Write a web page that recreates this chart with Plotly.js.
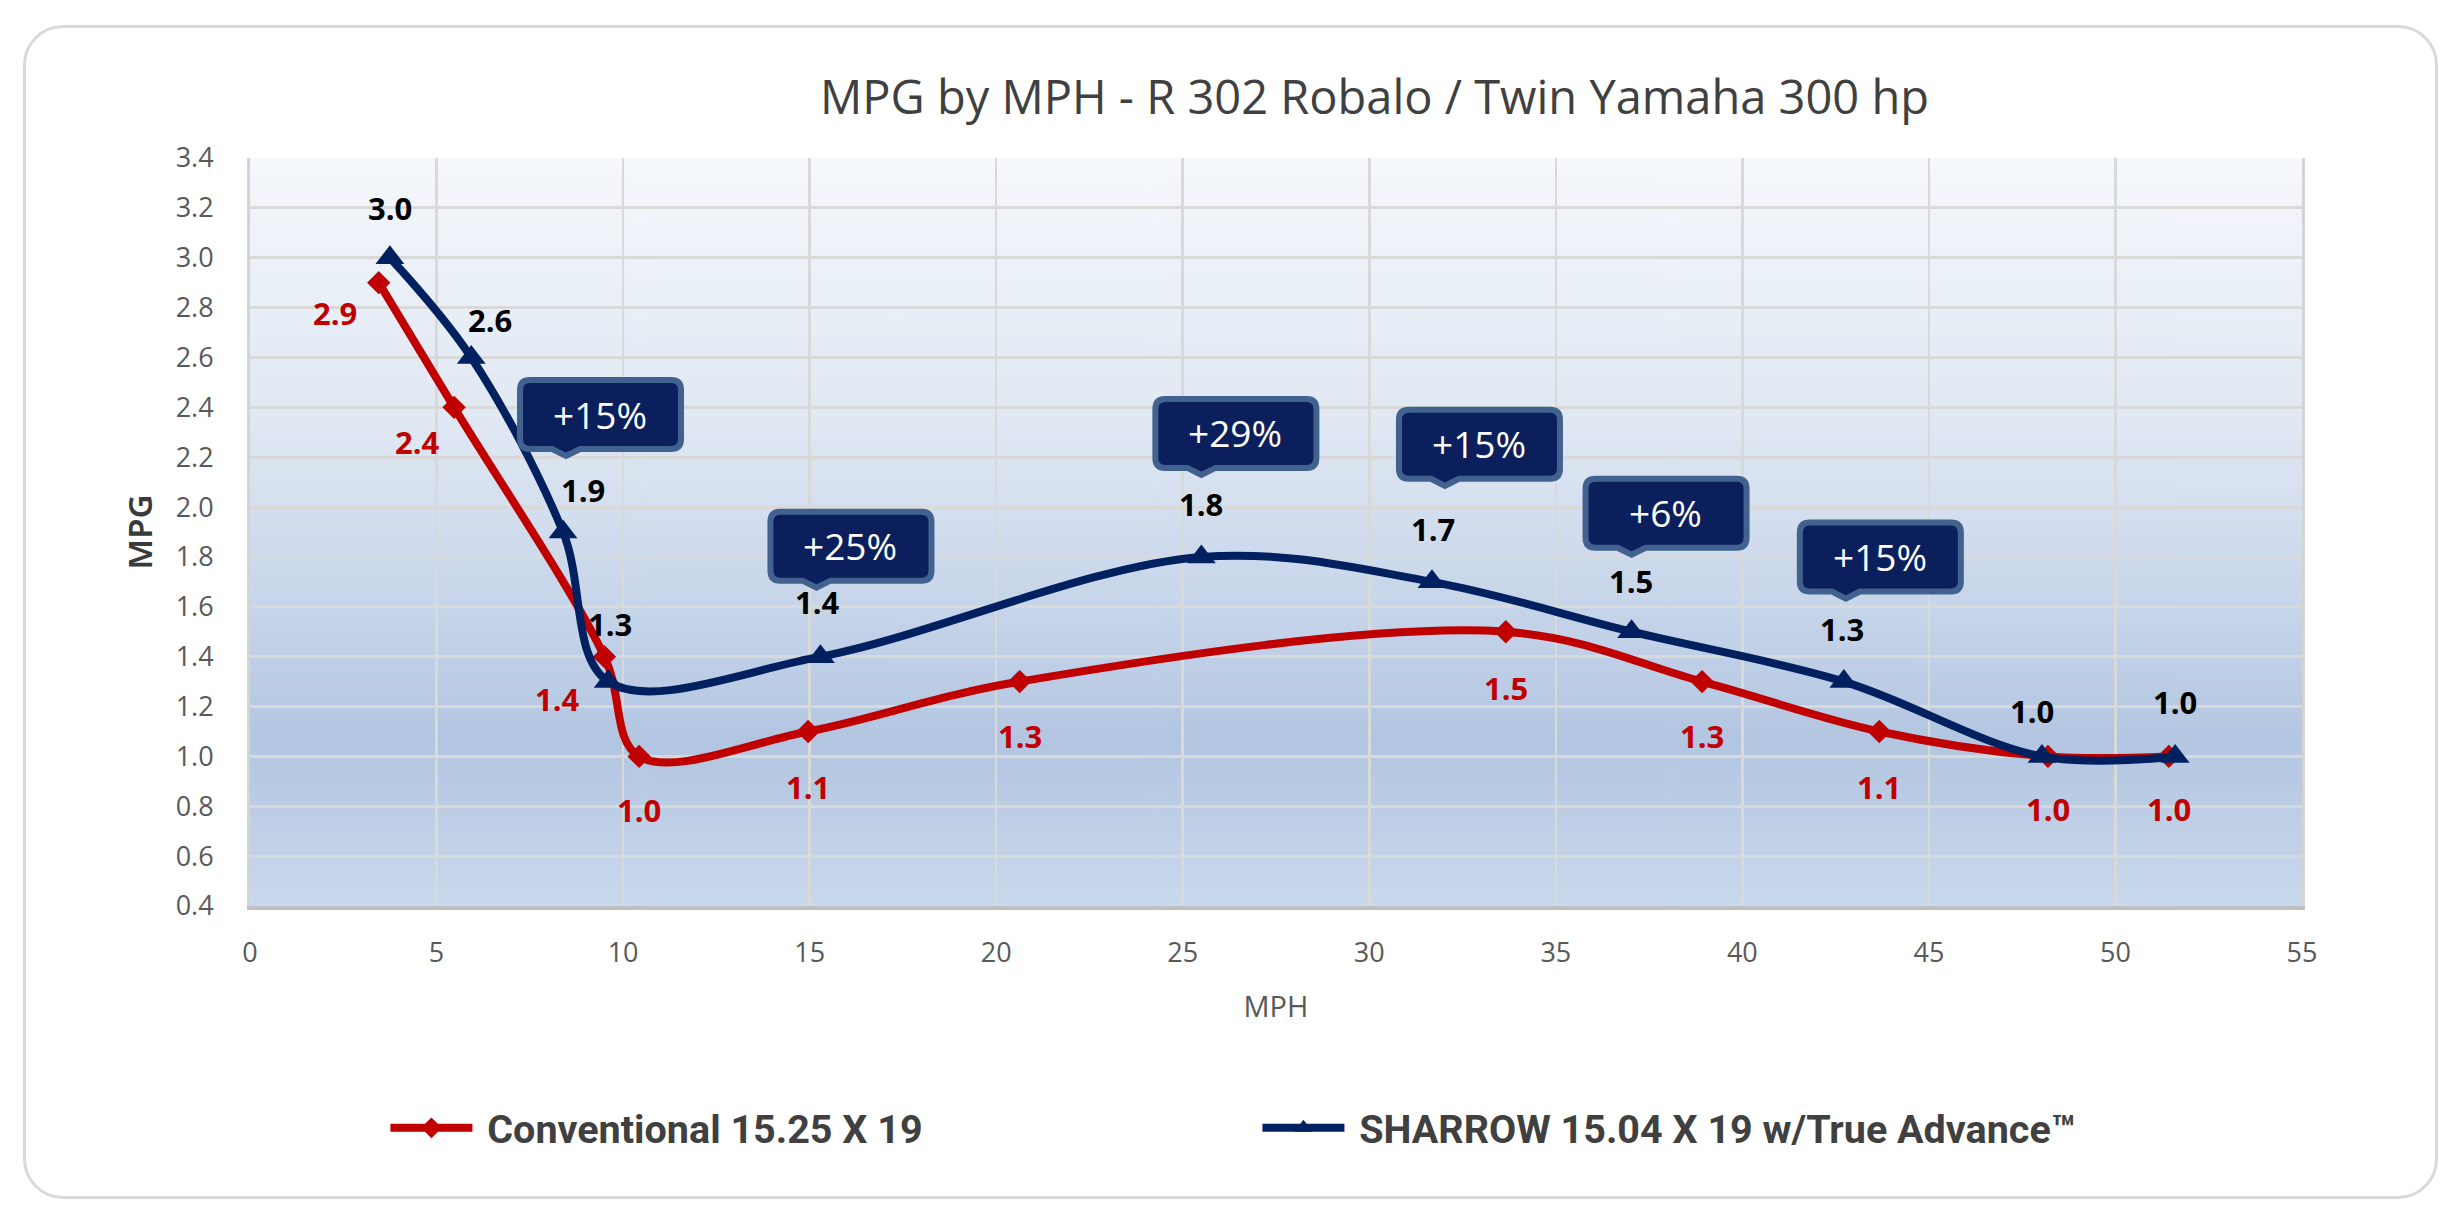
<!DOCTYPE html>
<html>
<head>
<meta charset="utf-8">
<script src="https://cdn.plot.ly/plotly-3.0.1.min.js"></script>
<style>
  html, body { margin: 0; padding: 0; background: #ffffff; }
  #chart { width: 2460px; height: 1214px; }
  #frame {
    position: absolute; left: 23px; top: 25px; width: 2415px; height: 1174px;
    box-sizing: border-box; border: 3px solid #d9d9d9; border-radius: 40px;
    pointer-events: none;
  }
</style>
</head>
<body>
<div id="chart"></div>
<div id="frame"></div>
<script>
// values
const conventionalName = 'Conventional 15.25 X 19';
const conventionalMph = [3.45, 5.47, 9.5, 10.43, 14.96, 20.63, 33.66, 38.92, 43.67, 48.19, 51.43];
const conventionalMpg = [2.9, 2.4, 1.4, 1.0, 1.1, 1.3, 1.5, 1.3, 1.1, 1.0, 1.0];

const sharrowName = 'SHARROW 15.04 X 19 w/True Advance\u2122';
const sharrowMph = [3.75, 5.93, 8.39, 9.6, 15.29, 25.5, 31.68, 37.03, 42.72, 48.03, 51.6];
const sharrowMpg = [3.0, 2.6, 1.9, 1.3, 1.4, 1.8, 1.7, 1.5, 1.3, 1.0, 1.0];

// callouts: gain text and the sharrow point it sits over
const gainLabels = ['+15%', '+25%', '+29%', '+15%', '+6%', '+15%'];
const gainPoint = [2, 4, 5, 6, 7, 8];

const xTicks = [0, 5, 10, 15, 20, 25, 30, 35, 40, 45, 50, 55];
const yTicks = [0.4, 0.6, 0.8, 1.0, 1.2, 1.4, 1.6, 1.8, 2.0, 2.2, 2.4, 2.6, 2.8, 3.0, 3.2, 3.4];

// label placement (pixels from the point, y up)
const redShift = [[-44, -30], [-37, -35], [-47, -42], [0, -54], [0, -56], [0, -54],
                  [0, -56], [0, -54], [0, -56], [0, -53], [0, -53]];
const blueShift = [[0, 50], [19, 37], [20, 42], [2, 58], [-3, 55], [0, 53],
                   [1, 53], [-1, 51], [-2, 53], [-10, 45], [0, 54]];
const tipShift = [[3, 72], [-4, 65], [0, 78], [13, 92], [0, 73], [2, 79]];

const RED = '#c00000';
const NAVY = '#002060';

// plot area gradient
function gradientImage() {
    const c = document.createElement('canvas');
    c.width = 8; c.height = 600;
    const g = c.getContext('2d');
    const grad = g.createLinearGradient(0, 0, 0, 600);
    grad.addColorStop(0, '#f5f8fc');
    grad.addColorStop(0.35, '#e0e8f3');
    grad.addColorStop(0.6, '#c7d5ea');
    grad.addColorStop(0.78, '#b3c6e1');
    grad.addColorStop(1, '#c9d8ec');
    g.fillStyle = grad;
    g.fillRect(0, 0, 8, 600);
    return c.toDataURL();
}

// rounded box with a pointer, in pixels relative to the anchor point
function calloutPath(tx, ty) {
    const r = 10;
    const left = tx - 46, right = tx + 115;
    const bottom = ty + 11, top = ty + 80;
    return 'M' + (left + r) + ',' + top +
        ' L' + (right - r) + ',' + top +
        ' Q' + right + ',' + top + ' ' + right + ',' + (top - r) +
        ' L' + right + ',' + (bottom + r) +
        ' Q' + right + ',' + bottom + ' ' + (right - r) + ',' + bottom +
        ' L' + (tx + 14) + ',' + bottom +
        ' L' + tx + ',' + (ty + 4) +
        ' L' + (tx - 14) + ',' + bottom +
        ' L' + (left + r) + ',' + bottom +
        ' Q' + left + ',' + bottom + ' ' + left + ',' + (bottom + r) +
        ' L' + left + ',' + (top - r) +
        ' Q' + left + ',' + top + ' ' + (left + r) + ',' + top + ' Z';
}

const conventional = {
    type: 'scatter',
    mode: 'lines+markers',
    name: '\u00a0' + conventionalName,
    x: conventionalMph,
    y: conventionalMpg,
    line: { color: RED, width: 8, shape: 'spline', smoothing: 1 },
    marker: { symbol: 'diamond', size: 18, color: RED }
};

const sharrow = {
    type: 'scatter',
    mode: 'lines+markers',
    name: '\u00a0' + sharrowName,
    x: sharrowMph,
    y: sharrowMpg,
    line: { color: NAVY, width: 8, shape: 'spline', smoothing: 1 },
    marker: { symbol: 'triangle-up', size: 25, color: NAVY }
};

const labelFont = { family: 'Open Sans', size: 31, weight: 'bold' };

const annotations = [];
conventionalMph.forEach((x, i) => {
    annotations.push({
        x: x, y: conventionalMpg[i], xref: 'x', yref: 'y',
        text: conventionalMpg[i].toFixed(1), showarrow: false,
        xshift: redShift[i][0], yshift: redShift[i][1],
        font: { ...labelFont, color: RED }
    });
});
sharrowMph.forEach((x, i) => {
    annotations.push({
        x: x, y: sharrowMpg[i], xref: 'x', yref: 'y',
        text: sharrowMpg[i].toFixed(1), showarrow: false,
        xshift: blueShift[i][0], yshift: blueShift[i][1],
        font: { ...labelFont, color: '#000000' }
    });
});

const shapes = [];
gainLabels.forEach((txt, k) => {
    const p = gainPoint[k];
    const tx = tipShift[k][0], ty = tipShift[k][1];
    shapes.push({
        type: 'path', xref: 'x', yref: 'y',
        xsizemode: 'pixel', ysizemode: 'pixel',
        xanchor: sharrowMph[p], yanchor: sharrowMpg[p],
        path: calloutPath(tx, ty),
        fillcolor: '#0b1f5c',
        line: { color: '#41618f', width: 6 },
        layer: 'above'
    });
    annotations.push({
        x: sharrowMph[p], y: sharrowMpg[p], xref: 'x', yref: 'y',
        text: txt, showarrow: false,
        xshift: tx + 34, yshift: ty + 46,
        font: { family: 'Open Sans', size: 37, color: '#ffffff' }
    });
});

const layout = {
    width: 2460,
    height: 1214,
    margin: { l: 250, r: 158, t: 158, b: 308 },
    paper_bgcolor: '#ffffff',
    plot_bgcolor: 'rgba(0,0,0,0)',
    title: {
        text: 'MPG by MPH - R 302 Robalo / Twin Yamaha 300 hp',
        x: 0.548, xref: 'paper', xanchor: 'center',
        y: 0.92, yref: 'container', yanchor: 'middle',
        font: { family: 'Open Sans', size: 47, color: '#404040' }
    },
    xaxis: {
        range: [0, 55],
        tickvals: xTicks,
        showgrid: true, gridcolor: '#d9d9d9', gridwidth: 2.5,
        zeroline: false,
        showline: true, linecolor: '#bfbfbf', linewidth: 4,
        ticks: '',
        ticklabelstandoff: 20,
        tickfont: { family: 'Open Sans', size: 27, color: '#595959' },
        title: { text: 'MPH', standoff: 28, font: { family: 'Open Sans', size: 29, color: '#595959' } },
        fixedrange: true
    },
    yaxis: {
        range: [0.4, 3.4],
        tickvals: yTicks,
        tickformat: '.1f',
        showgrid: true, gridcolor: '#d9d9d9', gridwidth: 3,
        zeroline: false,
        showline: true, linecolor: '#d3d3d3', linewidth: 3, mirror: true,
        ticks: '',
        ticklabelstandoff: 28,
        tickfont: { family: 'Open Sans', size: 27, color: '#595959' },
        title: { text: 'MPG', standoff: 14, font: { family: 'Noto Sans', size: 33, weight: 600, color: '#3a3a3a' } },
        fixedrange: true
    },
    images: [{
        source: gradientImage(),
        xref: 'paper', yref: 'paper',
        x: 0, y: 1, sizex: 1, sizey: 1,
        xanchor: 'left', yanchor: 'top',
        sizing: 'stretch', layer: 'below'
    }],
    shapes: shapes,
    annotations: annotations,
    showlegend: true,
    legend: {
        orientation: 'h',
        x: 0.066, xanchor: 'left',
        y: -0.297, yanchor: 'middle',
        itemwidth: 82,
        entrywidth: 775, entrywidthmode: 'pixels',
        bgcolor: 'rgba(0,0,0,0)',
        font: { family: 'Roboto', size: 39.5, weight: 'bold', color: '#404040' }
    },
    hovermode: false
};

Plotly.newPlot('chart', [conventional, sharrow], layout, { displayModeBar: false, staticPlot: true });
</script>
</body>
</html>
